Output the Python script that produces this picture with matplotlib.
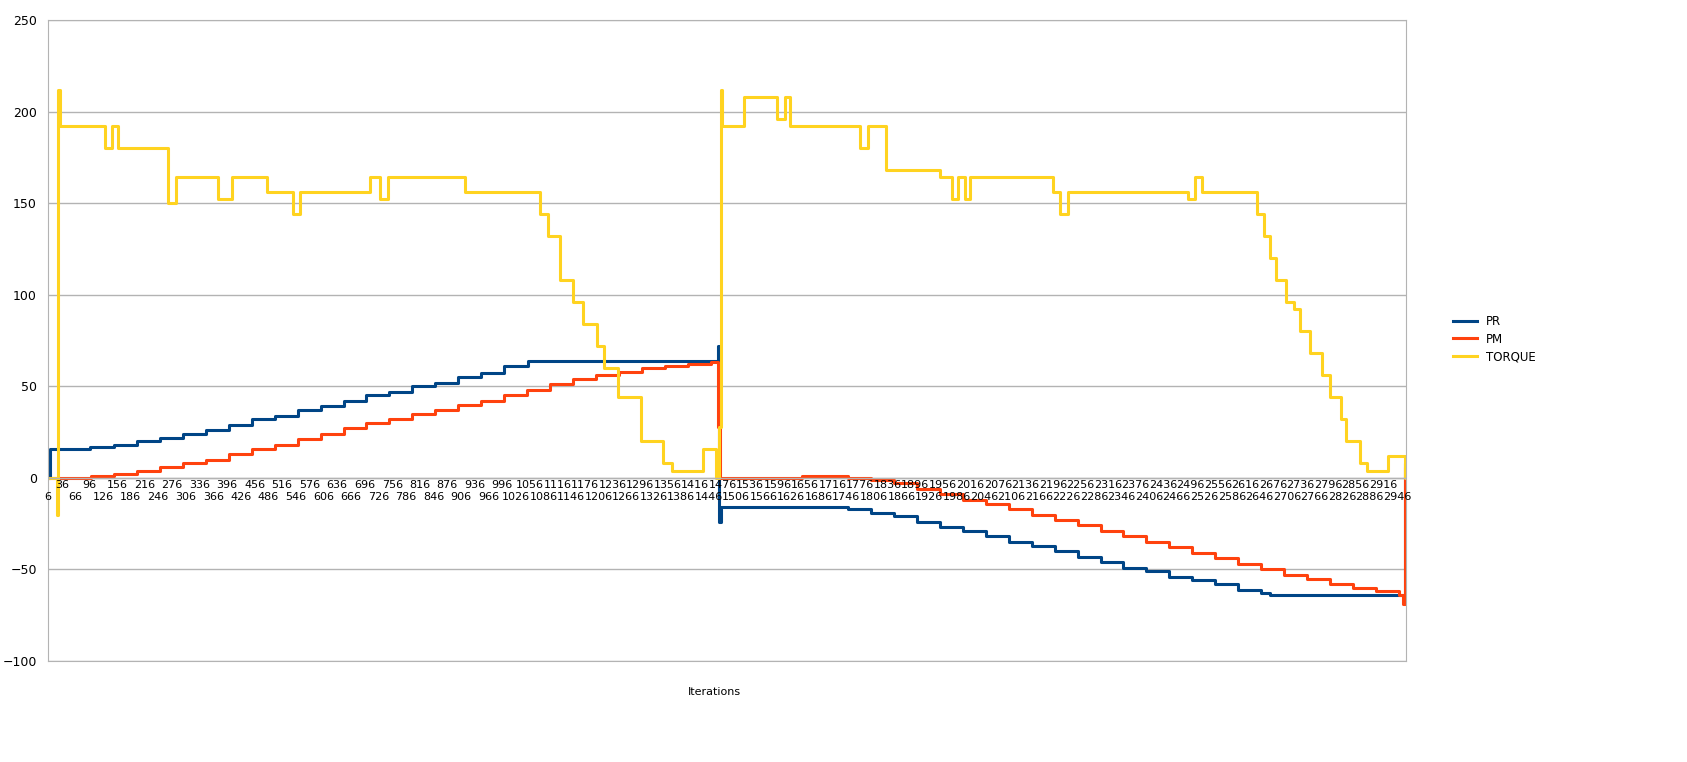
import matplotlib.pyplot as plt
import matplotlib.transforms as mtransforms

# step breakpoints (iteration, value)
pr_it = [6, 10, 98, 150, 200, 250, 300, 350, 400, 450, 500, 550, 600, 650, 700, 750, 800,
         850, 900, 950, 1000, 1052, 1466, 1469, 1473, 1690, 1750, 1800, 1850, 1900, 1950,
         2000, 2050, 2100, 2150, 2200, 2250, 2300, 2350, 2400, 2450, 2500, 2550, 2600,
         2650, 2670, 2964, 2966]
pr_val = [0, 16, 17, 18, 20, 22, 24, 26, 29, 32, 34, 37, 39, 42, 45, 47, 50,
          52, 55, 57, 61, 64, 72, -24, -16, -16, -17, -19, -21, -24, -27,
          -29, -32, -35, -37, -40, -43, -46, -49, -51, -54, -56, -58, -61,
          -63, -64, 8, 8]

pm_it = [6, 30, 100, 150, 200, 250, 300, 350, 400, 450, 500, 550, 600, 650, 700, 750, 800,
         850, 900, 950, 1000, 1050, 1100, 1150, 1200, 1250, 1300, 1350, 1400, 1450, 1466,
         1470, 1650, 1750, 1800, 1850, 1900, 1950, 2000, 2050, 2100, 2150, 2200, 2250, 2300,
         2350, 2400, 2450, 2500, 2550, 2600, 2650, 2700, 2750, 2800, 2850, 2900, 2950,
         2960, 2964, 2966]
pm_val = [0, 0, 1, 2, 4, 6, 8, 10, 13, 16, 18, 21, 24, 27, 30, 32, 35,
          37, 40, 42, 45, 48, 51, 54, 56, 58, 60, 61, 62, 63, 28,
          0, 1, 0, -1, -3, -6, -9, -12, -14, -17, -20, -23, -26, -29,
          -32, -35, -38, -41, -44, -47, -50, -53, -55, -58, -60, -62, -64,
          -69, 6, 6]

tq_it = [6, 26, 28, 32, 130, 146, 159, 268, 285, 377, 407, 483, 540, 555, 708, 730, 747,
         915, 1079, 1096, 1122, 1150, 1172, 1203, 1218, 1249, 1299, 1347, 1366, 1434, 1462,
         1469, 1473, 1475, 1523, 1595, 1613, 1624, 1776, 1794, 1833, 1951, 1977, 1990, 2005,
         2016, 2197, 2212, 2230, 2491, 2506, 2522, 2642, 2657, 2670, 2683, 2705, 2722, 2735,
         2757, 2783, 2801, 2823, 2836, 2866, 2881, 2927, 2964, 2966]
tq_val = [0, -20, 212, 192, 180, 192, 180, 150, 164, 152, 164, 156, 144, 156, 164, 152, 164,
          156, 144, 132, 108, 96, 84, 72, 60, 44, 20, 8, 4, 16, 0,
          28, 212, 192, 208, 196, 208, 192, 180, 192, 168, 164, 152, 164, 152,
          164, 156, 144, 156, 152, 164, 156, 144, 132, 120, 108, 96, 92, 80,
          68, 56, 44, 32, 20, 8, 4, 12, 0, 0]

tick_labels = list(range(6, 2966, 30))

fig = plt.figure(figsize=(16.87, 7.62), dpi=100)
ax = fig.add_axes([0.0285, 0.1325, 0.805, 0.8413])

ax.plot(pr_it, pr_val, drawstyle='steps-post', color='#004586', lw=2.2, label='PR')
ax.plot(pm_it, pm_val, drawstyle='steps-post', color='#ff420e', lw=2.2, label='PM')
ax.plot(tq_it, tq_val, drawstyle='steps-post', color='#ffd320', lw=2.2, label='TORQUE')

ax.set_xlim(6, 2966)
ax.set_ylim(-100, 250)
ax.set_yticks(range(-100, 251, 50))
ax.yaxis.grid(True, color='#b3b3b3', lw=1)
ax.set_axisbelow(True)
ax.tick_params(axis='y', length=0, labelsize=9, pad=8)
ax.set_xticks([])
for s in ax.spines.values():
    s.set_color('#b3b3b3')
ax.axhline(0, color='#b3b3b3', lw=1)

trans = mtransforms.blended_transform_factory(ax.transData, ax.transData)
for i, t in enumerate(tick_labels):
    off = -10.5 if i % 2 == 0 else -4
    ax.text(t, off, str(t), ha='center', va='center', fontsize=8, transform=trans)

fig.text(0.4235, 0.092, 'Iterations', ha='center', va='center', fontsize=8)
fig.legend(loc='center left', bbox_to_anchor=(0.855, 0.555), frameon=False,
           fontsize=8.5, handlelength=2, labelspacing=0.4)

fig.savefig('out.png', dpi=100)
